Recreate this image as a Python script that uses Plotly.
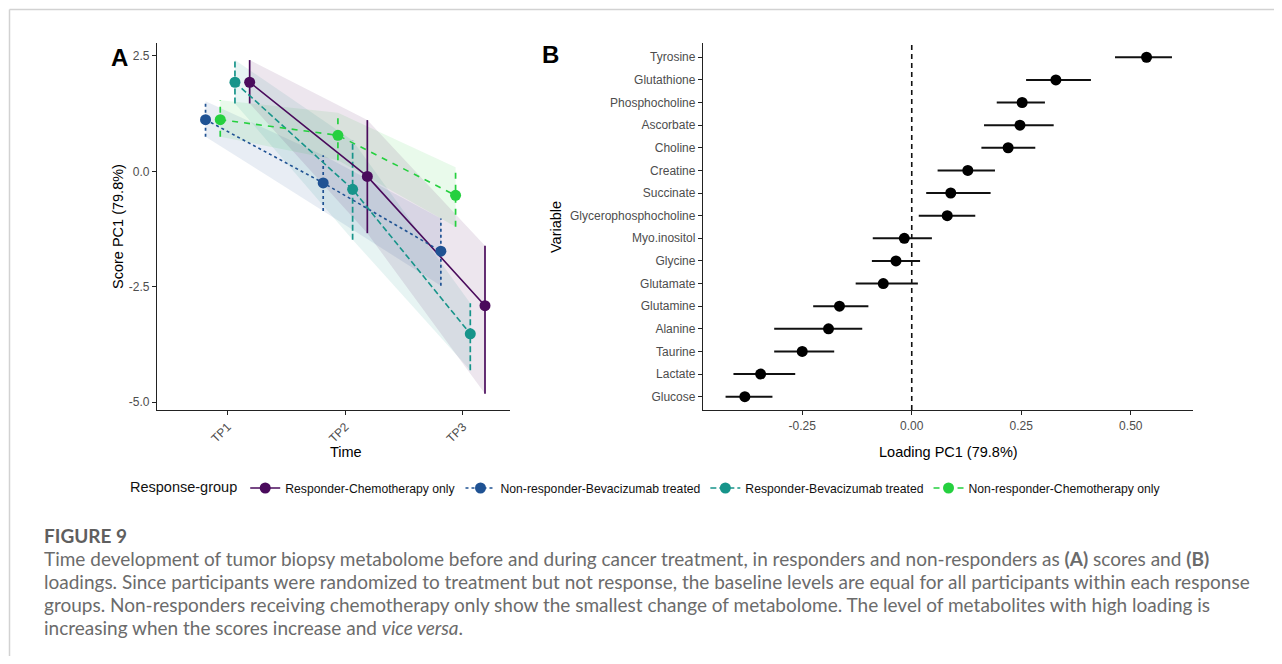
import plotly.graph_objects as go

# ---------------- data ----------------
timepoints = ["TP1", "TP2", "TP3"]
time_num = [1, 2, 3]

groups = ["Responder-Chemotherapy only", "Non-responder-Bevacizumab treated",
          "Responder-Bevacizumab treated", "Non-responder-Chemotherapy only"]

resp_chemo_mean = [1.93, -0.11, -2.91]
resp_chemo_lo = [1.47, -1.34, -4.82]
resp_chemo_hi = [2.41, 1.11, -1.61]

nonresp_bev_mean = [1.12, -0.25, -1.73]
nonresp_bev_lo = [0.75, -0.86, -2.48]
nonresp_bev_hi = [1.52, 0.35, -1.02]

resp_bev_mean = [1.93, -0.39, -3.52]
resp_bev_lo = [1.47, -1.48, -4.31]
resp_bev_hi = [2.41, 0.67, -2.86]

nonresp_chemo_mean = [1.12, 0.78, -0.52]
nonresp_chemo_lo = [0.75, 0.24, -1.20]
nonresp_chemo_hi = [1.54, 1.27, 0.09]

variables = ["Tyrosine", "Glutathione", "Phosphocholine", "Ascorbate", "Choline",
             "Creatine", "Succinate", "Glycerophosphocholine", "Myo.inositol",
             "Glycine", "Glutamate", "Glutamine", "Alanine", "Taurine",
             "Lactate", "Glucose"]
loading = [0.536, 0.329, 0.252, 0.247, 0.220, 0.128, 0.089, 0.081, -0.017,
           -0.036, -0.065, -0.165, -0.190, -0.250, -0.345, -0.381]
loading_lo = [0.464, 0.261, 0.194, 0.165, 0.159, 0.059, 0.033, 0.016, -0.089,
              -0.091, -0.128, -0.225, -0.314, -0.314, -0.407, -0.425]
loading_hi = [0.594, 0.409, 0.304, 0.324, 0.282, 0.190, 0.180, 0.145, 0.046,
              0.019, 0.014, -0.099, -0.113, -0.177, -0.266, -0.318]

caption_title = "FIGURE 9"
caption_lines = [
    "Time development of tumor biopsy metabolome before and during cancer treatment, in responders and non-responders as <b>(A)</b> scores and <b>(B)</b>",
    "loadings. Since participants were randomized to treatment but not response, the baseline levels are equal for all participants within each response",
    "groups. Non-responders receiving chemotherapy only show the smallest change of metabolome. The level of metabolites with high loading is",
    "increasing when the scores increase and <i>vice versa</i>.",
]

# ---------------- styles ----------------
colors = {
    groups[0]: "#4A0B5C",
    groups[1]: "#1F5293",
    groups[2]: "#17948A",
    groups[3]: "#25D03F",
}
fills = {
    groups[0]: "rgba(74,11,92,0.10)",
    groups[1]: "rgba(31,82,147,0.10)",
    groups[2]: "rgba(23,148,138,0.10)",
    groups[3]: "rgba(37,208,63,0.10)",
}
dashes = {
    groups[0]: "solid",
    groups[1]: "3px,3px",
    groups[2]: "6px,3px",
    groups[3]: "6px,6px",
}
dodge_width = 0.5
dodge_order = [groups[1], groups[3], groups[2], groups[0]]
n_dodge = len(dodge_order)

series = {
    groups[0]: (resp_chemo_mean, resp_chemo_lo, resp_chemo_hi),
    groups[1]: (nonresp_bev_mean, nonresp_bev_lo, nonresp_bev_hi),
    groups[2]: (resp_bev_mean, resp_bev_lo, resp_bev_hi),
    groups[3]: (nonresp_chemo_mean, nonresp_chemo_lo, nonresp_chemo_hi),
}

FW, FH = 1266, 648  # figure size (page body adds 8px margin)


def px_x(X):
    return (X - 8) / FW


def px_y(Y):
    return 1 - (Y - 8) / FH


def dodged(g):
    k = dodge_order.index(g)
    off = -dodge_width / 2 + dodge_width / n_dodge * (k + 0.5)
    return [t + off for t in time_num]


fig = go.Figure()

# ribbons
for g in dodge_order:
    m, lo, hi = series[g]
    xs = dodged(g)
    fig.add_trace(go.Scatter(
        x=xs + xs[::-1], y=hi + lo[::-1], fill="toself", fillcolor=fills[g],
        line=dict(width=0), mode="lines", showlegend=False, hoverinfo="skip",
        xaxis="x", yaxis="y"))

# error bars
for g in groups:
    m, lo, hi = series[g]
    xs = dodged(g)
    ex, ey = [], []
    for xv, l, h in zip(xs, lo, hi):
        ex += [xv, xv, None]
        ey += [l, h, None]
    fig.add_trace(go.Scatter(
        x=ex, y=ey, mode="lines",
        line=dict(color=colors[g], width=1.7, dash=dashes[g]),
        showlegend=False, hoverinfo="skip", xaxis="x", yaxis="y"))

# lines + points
for g in groups:
    m, lo, hi = series[g]
    xs = dodged(g)
    fig.add_trace(go.Scatter(
        x=xs, y=m, mode="lines+markers", name=g,
        line=dict(color=colors[g], width=1.6, dash=dashes[g]),
        marker=dict(color=colors[g], size=11),
        xaxis="x", yaxis="y"))

# panel B
fig.add_trace(go.Scatter(
    x=loading, y=variables, mode="markers",
    marker=dict(color="black", size=11),
    error_x=dict(type="data", symmetric=False,
                 array=[h - v for h, v in zip(loading_hi, loading)],
                 arrayminus=[v - l for v, l in zip(loading, loading_lo)],
                 width=0, thickness=2, color="#111111"),
    showlegend=False, xaxis="x2", yaxis="y2"))

tick_font = dict(family="Liberation Sans, Arial, sans-serif", size=12, color="#4D4D4D")
axis_common = dict(showline=True, linecolor="#222222", linewidth=1.3,
                   ticks="outside", ticklen=4, tickcolor="#222222", tickwidth=1.2,
                   showgrid=False, zeroline=False, tickfont=tick_font)

domA = [px_x(157), px_x(510)]
domB = [px_x(703), px_x(1193)]
domY = [px_y(410), px_y(43)]

annotations = []
ann_font = dict(family="Liberation Sans, Arial, sans-serif", color="black")


def ann(text, X, Y, size, angle=0, xanchor="center", font=None):
    return dict(text=text, x=px_x(X), y=px_y(Y), xref="paper", yref="paper",
                xanchor=xanchor, yanchor="middle", showarrow=False, textangle=angle,
                font=font if font is not None else dict(size=size, **ann_font))


annotations.append(ann("<b>A</b>", 119, 57, 24))
annotations.append(ann("<b>B</b>", 550, 55, 24))
annotations.append(ann("Score PC1 (79.8%)", 118, 227, 14.5, angle=-90))
annotations.append(ann("Time", 346, 452, 14.5))
annotations.append(ann("Variable", 556, 227, 14.5, angle=-90))
annotations.append(ann("Loading PC1 (79.8%)", 948, 452, 14.5))

cap_font = dict(family="Lato, sans-serif", color="#6B6B6B", size=19)
annotations.append(ann("<b>" + caption_title + "</b>", 42, 535, 19, xanchor="left",
                       font=dict(family="Lato, sans-serif", size=19, color="#5F5F5F")))
for i, line in enumerate(caption_lines):
    annotations.append(ann(line, 42, 558 + 23 * i, 19, xanchor="left", font=cap_font))

shapes = [
    dict(type="line", xref="paper", yref="paper", x0=px_x(9.5), x1=1.01, y0=px_y(9.5),
         y1=px_y(9.5), line=dict(color="#D2D2D2", width=1.5)),
    dict(type="line", xref="paper", yref="paper", x0=px_x(9.5), x1=px_x(9.5), y0=-0.01,
         y1=px_y(9.5), line=dict(color="#D2D2D2", width=1.5)),
    dict(type="line", xref="x2", yref="y2 domain", x0=0, x1=0, y0=0, y1=1,
         line=dict(color="#111111", width=1.6, dash="5px,4px")),
]

fig.update_layout(
    width=FW, height=FH,
    margin=dict(l=0, r=0, t=0, b=0),
    paper_bgcolor="white", plot_bgcolor="white",
    font=dict(family="Liberation Sans, Arial, sans-serif"),
    xaxis=dict(domain=domA, range=[0.4, 3.4], tickvals=time_num, ticktext=timepoints,
               tickangle=-45, anchor="y", **axis_common),
    yaxis=dict(domain=domY, range=[-5.17, 2.78], tickvals=[-5, -2.5, 0, 2.5],
               ticktext=["-5.0", "-2.5", "0.0", "2.5"], anchor="x", **axis_common),
    xaxis2=dict(domain=domB, range=[-0.4765, 0.642], tickvals=[-0.25, 0, 0.25, 0.5],
                ticktext=["-0.25", "0.00", "0.25", "0.50"], anchor="y2", **axis_common),
    yaxis2=dict(domain=domY, type="category", categoryorder="array",
                categoryarray=variables[::-1], range=[-0.59, 15.63], anchor="x2",
                **axis_common),
    legend=dict(orientation="h", x=px_x(128), y=px_y(488), xanchor="left", yanchor="middle",
                title=dict(text="Response-group", side="left",
                           font=dict(size=14.5, color="#111111")),
                font=dict(size=12.2, color="#111111"), bgcolor="rgba(0,0,0,0)",
                itemwidth=30, tracegroupgap=0),
    annotations=annotations,
    shapes=shapes,
)

fig.write_html("out.html")
